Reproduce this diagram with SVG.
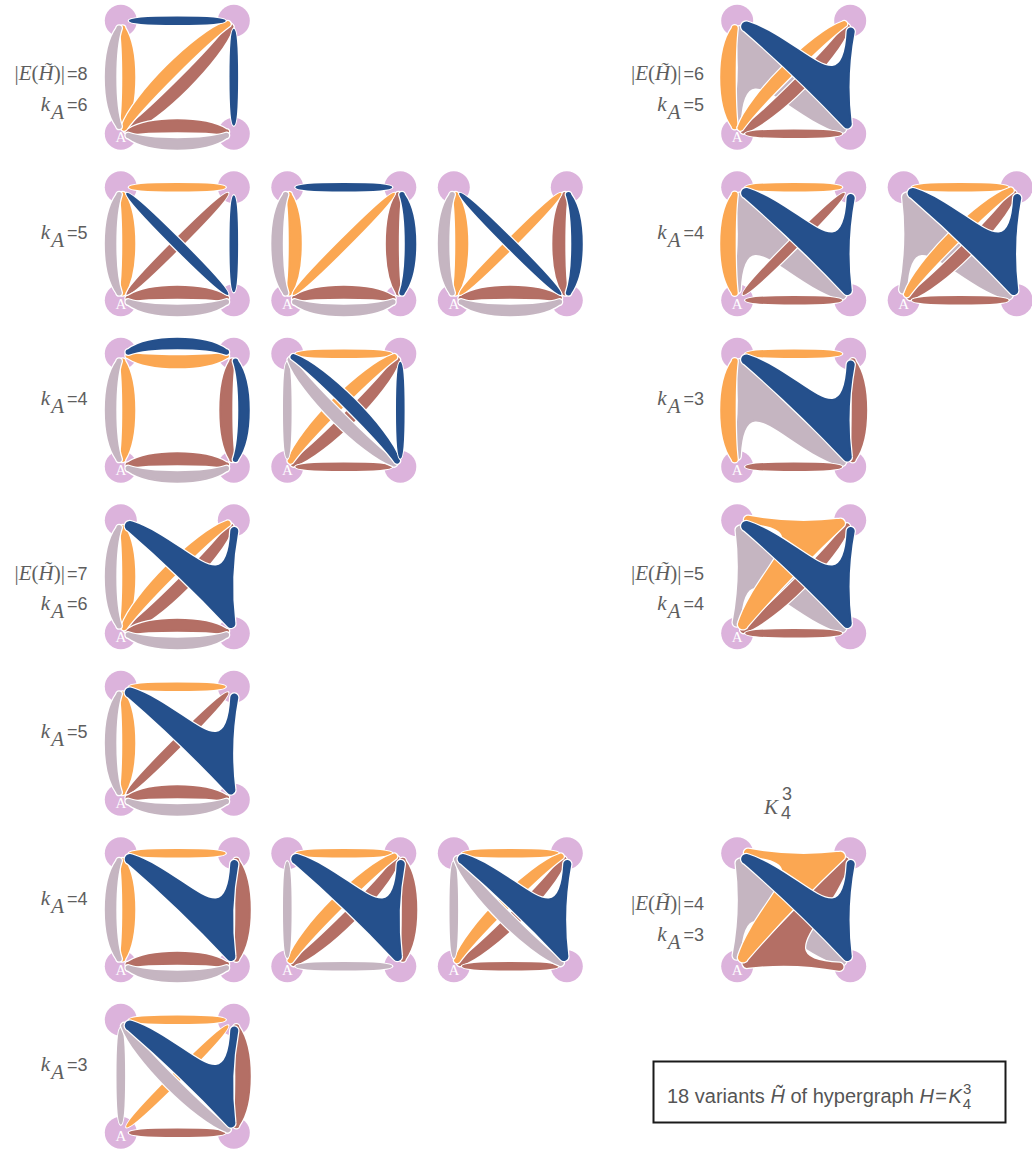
<svg xmlns="http://www.w3.org/2000/svg" width="1032" height="1153" viewBox="0 0 1032 1153">
<style>
.lab{font-family:"Liberation Serif",serif;font-size:21px;fill:#5e5e5e}
.it{font-style:italic}
.sn{font-family:"Liberation Sans",sans-serif;font-size:18px;font-style:normal}
.vx{fill:#dcb3dc}
.al{font-family:"Liberation Serif",serif;font-size:15px;fill:#ffffff;text-anchor:middle}
.o{fill:#fba752;stroke:#fba752}.b{fill:#25508c;stroke:#25508c}.r{fill:#b46f65;stroke:#b46f65}.g{fill:#c5b5c1;stroke:#c5b5c1}
.h{fill:#ffffff;stroke:#ffffff;stroke-width:4.5;stroke-linejoin:round}
.f{stroke-width:2;stroke-linejoin:round}
.box{font-family:"Liberation Sans",sans-serif;font-size:20px;fill:#555555}
</style>
<defs>
<g id="verts">
<circle cx="-56.5" cy="-56.5" r="16" class="vx"/>
<circle cx="56.5" cy="-56.5" r="16" class="vx"/>
<circle cx="-56.5" cy="56.5" r="16" class="vx"/>
<circle cx="56.5" cy="56.5" r="16" class="vx"/>
</g>
<text id="alab" x="-56.5" y="65" class="al">A</text>
<ellipse id="sS0" cx="-56.5" cy="0" rx="3.3" ry="47.5"/>
<path id="sO0" d="M-56.5,-49 C-63.8,-27.4 -63.8,27.4 -56.5,49 A1.75,1.75 0 0 1 -60,49 C-75.3,27.4 -75.3,-27.4 -60,-49 A1.75,1.75 0 0 1 -56.5,-49Z"/>
<path id="sX0" d="M-57,-49 C-59.7,-27.4 -59.7,27.4 -57,49 A2,2 0 0 1 -61,49 C-76.3,27.4 -76.3,-27.4 -61,-49 A2,2 0 0 1 -57,-49Z"/>
<path id="sI0" d="M-56.5,-49 C-53.2,-27.4 -53.2,27.4 -56.5,49 A1.75,1.75 0 0 0 -53,49 C-39.7,27.4 -39.7,-27.4 -53,-49 A1.75,1.75 0 0 0 -56.5,-49Z"/>
<ellipse id="dS0" cx="0" cy="0" rx="71" ry="4" transform="rotate(-45)"/>
<path id="dU0" d="M-52,52 C-34.5,27.9 27.9,-34.5 52,-52 A2,2 0 0 0 49.2,-54.8 C18.5,-43.9 -43.9,18.5 -54.8,49.2 A2,2 0 0 0 -52,52Z"/>
<path id="dL0" d="M-52,52 C-27.9,34.5 34.5,-27.9 52,-52 A2,2 0 0 1 54.8,-49.2 C43.9,-18.5 -18.5,43.9 -49.2,54.8 A2,2 0 0 1 -52,52Z"/>
<path id="t0" d="M-46,-54.5 C10,-36 50,30 54,-46 A3,3 0 0 1 60,-45.5 Q51.5,0 57,46 A3.5,3.5 0 0 1 51,49 Q3,-2 -49,-47 A4,4 0 0 1 -46,-54.5Z"/>
<g id="sS"><use href="#sS0" class="h"/><use href="#sS0" class="f"/></g>
<g id="sO"><use href="#sO0" class="h"/><use href="#sO0" class="f"/></g>
<g id="sX"><use href="#sX0" class="h"/><use href="#sX0" class="f"/></g>
<g id="sI"><use href="#sI0" class="h"/><use href="#sI0" class="f"/></g>
<g id="dS"><use href="#dS0" class="h"/><use href="#dS0" class="f"/></g>
<g id="dU"><use href="#dU0" class="h"/><use href="#dU0" class="f"/></g>
<g id="dL"><use href="#dL0" class="h"/><use href="#dL0" class="f"/></g>
<g id="t"><use href="#t0" class="h"/><use href="#t0" class="f"/></g>
</defs>
<rect width="1032" height="1153" fill="#ffffff"/>

<!-- Row 0 -->
<g id="p1" transform="translate(177.3,77.3)">
<g class="nodes"><use href="#verts"/></g>
<g class="edges">
<use href="#dL" class="r"/><use href="#sI" class="r" transform="rotate(270)"/>
<use href="#sI" class="o"/><use href="#dU" class="o"/>
<use href="#sO" class="g"/><use href="#sO" class="g" transform="rotate(270)"/>
<use href="#sS" class="b" transform="rotate(90)"/><use href="#sS" class="b" transform="rotate(180)"/>
</g>
<use href="#alab"/>
</g>
<g id="p2" transform="translate(793.7,77.3)">
<g class="nodes"><use href="#verts"/></g>
<g class="edges">
<use href="#t" class="g" transform="rotate(180)"/>
<use href="#dL" class="r"/><use href="#sS" class="r" transform="rotate(270)"/>
<use href="#sX" class="o"/><use href="#dU" class="o"/>
<use href="#t" class="b"/>
</g>
<use href="#alab"/>
</g>

<!-- Row 1 -->
<g id="p3" transform="translate(177.3,243.8)">
<g class="nodes"><use href="#verts"/></g>
<g class="edges">
<use href="#dS" class="r"/><use href="#sI" class="r" transform="rotate(270)"/>
<use href="#sS" class="o" transform="rotate(90)"/><use href="#sI" class="o"/>
<use href="#sO" class="g"/><use href="#sO" class="g" transform="rotate(270)"/>
<use href="#dS" class="b" transform="rotate(90)"/><use href="#sS" class="b" transform="rotate(180)"/>
</g>
<use href="#alab"/>
</g>
<g id="p4" transform="translate(343.8,243.8)">
<g class="nodes"><use href="#verts"/></g>
<g class="edges">
<use href="#sI" class="r" transform="rotate(180)"/><use href="#sI" class="r" transform="rotate(270)"/>
<use href="#sI" class="o"/><use href="#dS" class="o"/>
<use href="#sO" class="g"/><use href="#sO" class="g" transform="rotate(270)"/>
<use href="#sS" class="b" transform="rotate(90)"/><use href="#sO" class="b" transform="rotate(180)"/>
</g>
<use href="#alab"/>
</g>
<g id="p5" transform="translate(510.3,243.8)">
<g class="nodes"><use href="#verts"/></g>
<g class="edges">
<use href="#sI" class="r" transform="rotate(180)"/><use href="#sI" class="r" transform="rotate(270)"/>
<use href="#sI" class="o"/><use href="#dS" class="o"/>
<use href="#sO" class="g"/><use href="#sO" class="g" transform="rotate(270)"/>
<use href="#dS" class="b" transform="rotate(90)"/><use href="#sO" class="b" transform="rotate(180)"/>
</g>
<use href="#alab"/>
</g>
<g id="p6" transform="translate(793.7,243.8)">
<g class="nodes"><use href="#verts"/></g>
<g class="edges">
<use href="#t" class="g" transform="rotate(180)"/>
<use href="#dS" class="r"/><use href="#sS" class="r" transform="rotate(270)"/>
<use href="#sS" class="o" transform="rotate(90)"/><use href="#sX" class="o"/>
<use href="#t" class="b"/>
</g>
<use href="#alab"/>
</g>
<g id="p7" transform="translate(960.2,243.8)">
<g class="nodes"><use href="#verts"/></g>
<g class="edges">
<use href="#t" class="g" transform="rotate(180)"/>
<use href="#dL" class="r"/><use href="#sS" class="r" transform="rotate(270)"/>
<use href="#sS" class="o" transform="rotate(90)"/><use href="#dU" class="o"/>
<use href="#t" class="b"/>
</g>
<use href="#alab"/>
</g>

<!-- Row 2 -->
<g id="p8" transform="translate(177.3,410.3)">
<g class="nodes"><use href="#verts"/></g>
<g class="edges">
<use href="#sI" class="r" transform="rotate(180)"/><use href="#sI" class="r" transform="rotate(270)"/>
<use href="#sI" class="o" transform="rotate(90)"/><use href="#sI" class="o"/>
<use href="#sO" class="g"/><use href="#sO" class="g" transform="rotate(270)"/>
<use href="#sO" class="b" transform="rotate(90)"/><use href="#sO" class="b" transform="rotate(180)"/>
</g>
<use href="#alab"/>
</g>
<g id="p9" transform="translate(343.8,410.3)">
<g class="nodes"><use href="#verts"/></g>
<g class="edges">
<use href="#dL" class="r"/><use href="#sS" class="r" transform="rotate(270)"/>
<use href="#sS" class="o" transform="rotate(90)"/><use href="#dU" class="o"/>
<use href="#sS" class="g"/><use href="#dL" class="g" transform="rotate(90)"/>
<use href="#dU" class="b" transform="rotate(90)"/><use href="#sS" class="b" transform="rotate(180)"/>
</g>
<use href="#alab"/>
</g>
<g id="p10" transform="translate(793.7,410.3)">
<g class="nodes"><use href="#verts"/></g>
<g class="edges">
<use href="#t" class="g" transform="rotate(180)"/>
<use href="#sX" class="r" transform="rotate(180)"/><use href="#sS" class="r" transform="rotate(270)"/>
<use href="#sS" class="o" transform="rotate(90)"/><use href="#sX" class="o"/>
<use href="#t" class="b"/>
</g>
<use href="#alab"/>
</g>

<!-- Row 3 -->
<g id="p11" transform="translate(177.3,576.8)">
<g class="nodes"><use href="#verts"/></g>
<g class="edges">
<use href="#dL" class="r"/><use href="#sI" class="r" transform="rotate(270)"/>
<use href="#sI" class="o"/><use href="#dU" class="o"/>
<use href="#sO" class="g"/><use href="#sO" class="g" transform="rotate(270)"/>
<use href="#t" class="b"/>
</g>
<use href="#alab"/>
</g>
<g id="p12" transform="translate(793.7,576.8)">
<g class="nodes"><use href="#verts"/></g>
<g class="edges">
<use href="#t" class="g" transform="rotate(180)"/>
<use href="#dL" class="r"/><use href="#sS" class="r" transform="rotate(270)"/>
<use href="#t" class="o" transform="rotate(270)"/>
<use href="#t" class="b"/>
</g>
<use href="#alab"/>
</g>

<!-- Row 4 -->
<g id="p13" transform="translate(177.3,743.3)">
<g class="nodes"><use href="#verts"/></g>
<g class="edges">
<use href="#dS" class="r"/><use href="#sI" class="r" transform="rotate(270)"/>
<use href="#sS" class="o" transform="rotate(90)"/><use href="#sI" class="o"/>
<use href="#sO" class="g"/><use href="#sO" class="g" transform="rotate(270)"/>
<use href="#t" class="b"/>
</g>
<use href="#alab"/>
</g>

<!-- Row 5 -->
<g id="p14" transform="translate(177.3,909.8)">
<g class="nodes"><use href="#verts"/></g>
<g class="edges">
<use href="#sX" class="r" transform="rotate(180)"/><use href="#sI" class="r" transform="rotate(270)"/>
<use href="#sS" class="o" transform="rotate(90)"/><use href="#sI" class="o"/>
<use href="#sO" class="g"/><use href="#sO" class="g" transform="rotate(270)"/>
<use href="#t" class="b"/>
</g>
<use href="#alab"/>
</g>
<g id="p15" transform="translate(343.8,909.8)">
<g class="nodes"><use href="#verts"/></g>
<g class="edges">
<use href="#dL" class="r"/><use href="#sX" class="r" transform="rotate(180)"/>
<use href="#sS" class="o" transform="rotate(90)"/><use href="#dU" class="o"/>
<use href="#sS" class="g"/><use href="#sS" class="g" transform="rotate(270)"/>
<use href="#t" class="b"/>
</g>
<use href="#alab"/>
</g>
<g id="p16" transform="translate(510.3,909.8)">
<g class="nodes"><use href="#verts"/></g>
<g class="edges">
<use href="#dL" class="r"/><use href="#sS" class="r" transform="rotate(270)"/>
<use href="#sS" class="o" transform="rotate(90)"/><use href="#dU" class="o"/>
<use href="#sS" class="g"/><use href="#dL" class="g" transform="rotate(90)"/>
<use href="#t" class="b"/>
</g>
<use href="#alab"/>
</g>
<g id="p17" transform="translate(793.7,909.8)">
<g class="nodes"><use href="#verts"/></g>
<g class="edges">
<use href="#t" class="g" transform="rotate(180)"/>
<use href="#t" class="r" transform="rotate(90)"/>
<use href="#t" class="o" transform="rotate(270)"/>
<use href="#t" class="b"/>
</g>
<use href="#alab"/>
</g>

<!-- Row 6 -->
<g id="p18" transform="translate(177.3,1076.3)">
<g class="nodes"><use href="#verts"/></g>
<g class="edges">
<use href="#sX" class="r" transform="rotate(180)"/><use href="#sS" class="r" transform="rotate(270)"/>
<use href="#sS" class="o" transform="rotate(90)"/><use href="#dS" class="o"/>
<use href="#sS" class="g"/><use href="#dL" class="g" transform="rotate(90)"/>
<use href="#t" class="b"/>
</g>
<use href="#alab"/>
</g>

<!-- Labels -->
<g id="labels">
<text class="lab" x="87.5" y="80" text-anchor="end">|<tspan class="it">E</tspan>(<tspan class="it">H̃</tspan>)|<tspan class="sn" dx="2">=8</tspan></text>
<text class="lab" x="87.5" y="110.5" text-anchor="end"><tspan class="it">k</tspan><tspan class="it" dx="1" dy="8">A</tspan><tspan class="sn" dx="3" dy="-8">=6</tspan></text>
<text class="lab" x="704" y="80" text-anchor="end">|<tspan class="it">E</tspan>(<tspan class="it">H̃</tspan>)|<tspan class="sn" dx="2">=6</tspan></text>
<text class="lab" x="704" y="110.5" text-anchor="end"><tspan class="it">k</tspan><tspan class="it" dx="1" dy="8">A</tspan><tspan class="sn" dx="3" dy="-8">=5</tspan></text>

<text class="lab" x="87.5" y="238.8" text-anchor="end"><tspan class="it">k</tspan><tspan class="it" dx="1" dy="8">A</tspan><tspan class="sn" dx="3" dy="-8">=5</tspan></text>
<text class="lab" x="704" y="238.8" text-anchor="end"><tspan class="it">k</tspan><tspan class="it" dx="1" dy="8">A</tspan><tspan class="sn" dx="3" dy="-8">=4</tspan></text>

<text class="lab" x="87.5" y="405.3" text-anchor="end"><tspan class="it">k</tspan><tspan class="it" dx="1" dy="8">A</tspan><tspan class="sn" dx="3" dy="-8">=4</tspan></text>
<text class="lab" x="704" y="405.3" text-anchor="end"><tspan class="it">k</tspan><tspan class="it" dx="1" dy="8">A</tspan><tspan class="sn" dx="3" dy="-8">=3</tspan></text>

<text class="lab" x="87.5" y="579.5" text-anchor="end">|<tspan class="it">E</tspan>(<tspan class="it">H̃</tspan>)|<tspan class="sn" dx="2">=7</tspan></text>
<text class="lab" x="87.5" y="610" text-anchor="end"><tspan class="it">k</tspan><tspan class="it" dx="1" dy="8">A</tspan><tspan class="sn" dx="3" dy="-8">=6</tspan></text>
<text class="lab" x="704" y="579.5" text-anchor="end">|<tspan class="it">E</tspan>(<tspan class="it">H̃</tspan>)|<tspan class="sn" dx="2">=5</tspan></text>
<text class="lab" x="704" y="610" text-anchor="end"><tspan class="it">k</tspan><tspan class="it" dx="1" dy="8">A</tspan><tspan class="sn" dx="3" dy="-8">=4</tspan></text>

<text class="lab" x="87.5" y="738.3" text-anchor="end"><tspan class="it">k</tspan><tspan class="it" dx="1" dy="8">A</tspan><tspan class="sn" dx="3" dy="-8">=5</tspan></text>

<text class="lab" x="87.5" y="904.8" text-anchor="end"><tspan class="it">k</tspan><tspan class="it" dx="1" dy="8">A</tspan><tspan class="sn" dx="3" dy="-8">=4</tspan></text>
<text class="lab" x="704" y="910" text-anchor="end">|<tspan class="it">E</tspan>(<tspan class="it">H̃</tspan>)|<tspan class="sn" dx="2">=4</tspan></text>
<text class="lab" x="704" y="941" text-anchor="end"><tspan class="it">k</tspan><tspan class="it" dx="1" dy="8">A</tspan><tspan class="sn" dx="3" dy="-8">=3</tspan></text>

<text class="lab" x="87.5" y="1071.3" text-anchor="end"><tspan class="it">k</tspan><tspan class="it" dx="1" dy="8">A</tspan><tspan class="sn" dx="3" dy="-8">=3</tspan></text>

<text class="lab it" x="764" y="814" font-size="28">K</text>
<text class="lab sn" x="781" y="818.5" font-size="17">4</text>
<text class="lab sn" x="782" y="799.5" font-size="17">3</text>
</g>

<g id="caption">
<rect x="653.5" y="1061.5" width="352" height="61" fill="#ffffff" stroke="#1a1a1a" stroke-width="2"/>
<text class="box" x="667" y="1103">18 variants <tspan font-style="italic">H̃</tspan> of hypergraph <tspan font-style="italic">H</tspan><tspan dx="1.5">=</tspan><tspan font-style="italic" dx="1.5">K</tspan><tspan font-size="15" dx="1" dy="6">4</tspan><tspan font-size="15" dx="-8.3" dy="-15">3</tspan></text>
</g>
</svg>
